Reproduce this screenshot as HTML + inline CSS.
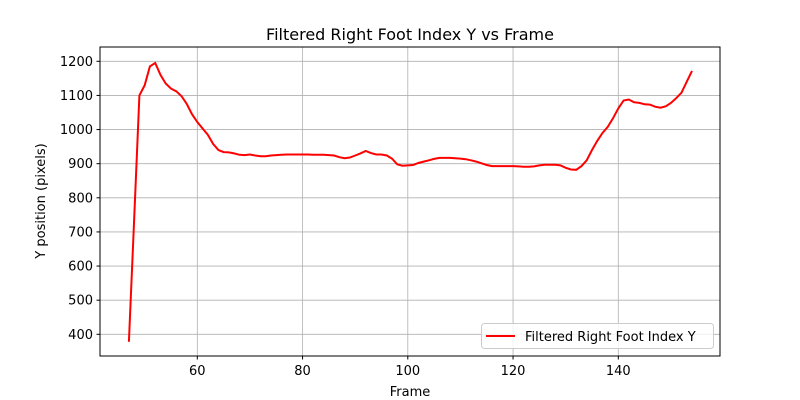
<!DOCTYPE html>
<html><head><meta charset="utf-8"><style>
body{margin:0;background:#fff}
svg{display:block;font-family:"DejaVu Sans","Liberation Sans",sans-serif}
</style></head><body>
<svg id="chart" width="800" height="400">
<rect width="800" height="400" fill="#fff"/>
<text x="410" y="40" font-size="16" text-anchor="middle">Filtered Right Foot Index Y vs Frame</text>
<g id="grid"></g>
<g id="ticks"></g>
<path id="line" fill="none" stroke="#ff0000" stroke-width="2"/>
<rect x="100" y="47" width="620" height="309" fill="none" stroke="#000" stroke-width="1"/>
<text x="410" y="396" font-size="13" text-anchor="middle">Frame</text>
<text x="45" y="201" font-size="13" text-anchor="middle" transform="rotate(-90 45 201)">Y position (pixels)</text>
<g>
<rect x="481.5" y="323.5" width="232" height="25" rx="3" fill="#fff" fill-opacity="0.8" stroke="#ccc"/>
<line x1="486" y1="336" x2="515" y2="336" stroke="#ff0000" stroke-width="2"/>
<text x="525" y="341" font-size="13">Filtered Right Foot Index Y</text>
</g>
</svg>
<script>
const frames=[];for(let f=47;f<=154;f++)frames.push(f);
const values=[378,740,1100,1130,1185,1195,1160,1135,1120,1112,1098,1075,1045,1022,1003,985,958,940,934,933,930,926,925,927,924,922,922,924,925,926,927,927,927,927,927,926,926,926,925,924,919,916,918,924,930,937,931,927,927,924,915,898,894,895,896,902,906,910,914,917,917,917,916,915,913,910,906,901,896,893,893,893,893,893,892,891,891,892,895,897,897,897,895,888,883,882,893,910,940,967,990,1008,1033,1062,1085,1088,1080,1078,1074,1073,1067,1064,1068,1078,1092,1108,1140,1172];
const xTicks=[60,80,100,120,140];
const yTicks=[400,500,600,700,800,900,1000,1100,1200];
const xs=f=>197.3+(f-60)*5.2625;
const ys=v=>334.3-(v-400)*0.34125;
const NS="http://www.w3.org/2000/svg";
const grid=document.getElementById('grid'),ticks=document.getElementById('ticks');
function mk(tag,attrs,parent){const e=document.createElementNS(NS,tag);for(const k in attrs)e.setAttribute(k,attrs[k]);parent.appendChild(e);return e;}
xTicks.forEach(t=>{const x=xs(t);
const g=mk('line',{x1:x,x2:x,y1:47,y2:356,stroke:'#b0b0b0','stroke-width':0.8},grid);


mk('line',{x1:x,x2:x,y1:356,y2:359.5,stroke:'#000'},ticks);
const l=mk('text',{x:x,y:375,'font-size':13,'text-anchor':'middle'},ticks);l.textContent=t;

});
yTicks.forEach(t=>{const y=ys(t);
const g=mk('line',{x1:100,x2:720,y1:y,y2:y,stroke:'#b0b0b0','stroke-width':0.8},grid);


mk('line',{x1:96.5,x2:100,y1:y,y2:y,stroke:'#000'},ticks);
const l=mk('text',{x:93,y:y+4.5,'font-size':13,'text-anchor':'end'},ticks);l.textContent=t;

});
document.getElementById('line').setAttribute('d',values.map((v,i)=>(i?'L':'M')+xs(frames[i]).toFixed(1)+','+ys(v).toFixed(1)).join(''));
</script>
</body></html>
